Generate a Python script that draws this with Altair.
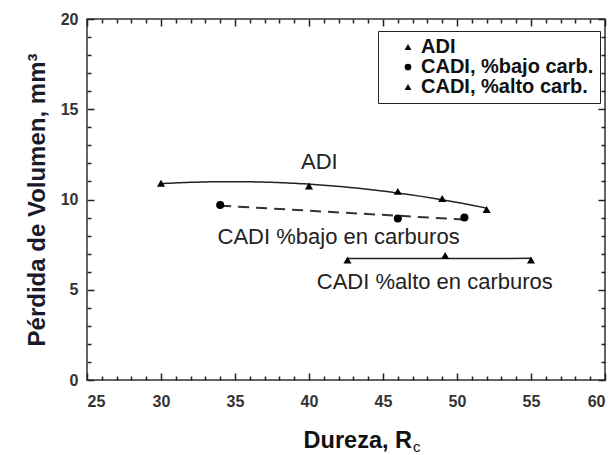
import altair as alt
import pandas as pd

# ---- data ----
series_names = ["ADI", "CADI, %bajo carb.", "CADI, %alto carb."]
adi_x = [30, 40, 46, 49, 52]
adi_y = [10.9, 10.75, 10.45, 10.05, 9.45]
bajo_x = [34, 46, 50.5]
bajo_y = [9.7, 8.95, 9.0]
alto_x = [42.6, 49.2, 55]
alto_y = [6.65, 6.9, 6.65]

ann_text = ["ADI", "CADI %bajo en carburos", "CADI %alto en carburos"]
ann_x = [40.7, 42.0, 48.5]
ann_y = [12.05, 7.9, 5.45]

x_ticks = list(range(25, 61))
y_ticks = list(range(0, 21))

FONT = "Liberation Sans"
W, H = 518, 361
XMIN, XMAX, YMIN, YMAX = 25, 60, 0, 20
MAJ, MIN = 7, 4  # inward tick lengths in px

df = pd.DataFrame(
    {"series": [series_names[0]] * len(adi_x) + [series_names[1]] * len(bajo_x) + [series_names[2]] * len(alto_x),
     "x": adi_x + bajo_x + alto_x,
     "y": adi_y + bajo_y + alto_y}
)
df_adi = df[df.series == series_names[0]]
df_bajo = df[df.series == series_names[1]]
df_alto = df[df.series == series_names[2]]

xscale = alt.Scale(domain=[XMIN, XMAX], nice=False, zero=False)
yscale = alt.Scale(domain=[YMIN, YMAX], nice=False, zero=False)

# inward ticks on all four sides drawn as dashed grid lines (a dash at each end of each grid line)
x_grid_dash = {"condition": {"test": "datum.value % 5 === 0", "value": [MAJ, H - 2 * MAJ, MAJ, 0]},
               "value": [MIN, H - 2 * MIN, MIN, 0]}
y_grid_dash = {"condition": {"test": "datum.value % 5 === 0", "value": [MAJ, W - 2 * MAJ, MAJ, 0]},
               "value": [MIN, W - 2 * MIN, MIN, 0]}

xaxis = alt.Axis(values=x_ticks, ticks=False, domain=False, grid=True, gridColor="#222", gridWidth=1.5,
                 gridOpacity=1, gridDash=x_grid_dash, labelOverlap=False,
                 labelExpr="datum.value % 5 === 0 ? datum.label : ''",
                 labelFont=FONT, labelFontSize=16, labelFontWeight="bold", labelColor="#333",
                 labelPadding=13, title=None)
yaxis = alt.Axis(values=y_ticks, ticks=False, domain=False, grid=True, gridColor="#222", gridWidth=1.5,
                 gridOpacity=1, gridDash=y_grid_dash, labelOverlap=False,
                 labelExpr="datum.value % 5 === 0 ? datum.label : ''",
                 labelFont=FONT, labelFontSize=16, labelFontWeight="bold", labelColor="#333", labelPadding=9,
                 title="Pérdida de Volumen, mm³", titleFont=FONT, titleFontSize=24, titleFontWeight="bold",
                 titleColor="#1a1a2a", titlePadding=11)

X = alt.X("x:Q", scale=xscale, axis=xaxis)
Y = alt.Y("y:Q", scale=yscale, axis=yaxis)

adi_line = alt.Chart(df_adi).transform_regression("x", "y", method="poly", order=2, extent=[30, 52]).mark_line(
    color="#222", strokeWidth=1.5).encode(x=X, y=Y)
bajo_line = alt.Chart(df_bajo).transform_regression("x", "y", extent=[34, 50.5]).mark_line(
    color="#333", strokeWidth=2, strokeDash=[11, 7]).encode(x=X, y=Y)
alto_line = alt.Chart(df_alto).transform_regression("x", "y", extent=[42.6, 55]).mark_line(
    color="#222", strokeWidth=1.5).encode(x=X, y=Y)

points = alt.Chart(df).mark_point(filled=True, opacity=1, color="black", size=65).encode(
    x=X, y=Y,
    shape=alt.Shape("series:N", scale=alt.Scale(domain=series_names, range=["triangle-up", "circle", "triangle-up"]),
                    sort=series_names,
                    legend=alt.Legend(title=None, orient="none", legendX=291, legendY=12, fillColor="white",
                                      strokeColor="#222", padding=6, labelFont=FONT, labelFontSize=20,
                                      labelFontWeight="bold", labelColor="#111", labelLimit=0, symbolSize=45,
                                      symbolFillColor="black", symbolStrokeColor="black", rowPadding=-3,
                                      symbolOffset=14, labelOffset=3)),
)

ann_df = pd.DataFrame({"x": ann_x, "y": ann_y, "t": ann_text})
ann = alt.Chart(ann_df).mark_text(font=FONT, fontSize=22, color="#222").encode(x=X, y=Y, text="t:N")

title_df = pd.DataFrame({"t": ["Dureza, R"], "s": ["c"]})
xtitle = alt.Chart(title_df).mark_text(font=FONT, fontSize=23.5, fontWeight="bold", color="#111", align="right",
                                       baseline="alphabetic").encode(x=alt.value(325), y=alt.value(429), text="t:N")
xsub = alt.Chart(title_df).mark_text(font=FONT, fontSize=15, color="#111", align="left",
                                     baseline="alphabetic").encode(x=alt.value(326), y=alt.value(433), text="s:N")

chart = alt.layer(adi_line, bajo_line, alto_line, points, ann, xtitle, xsub).properties(
    width=W, height=H, autosize=alt.AutoSizeParams(type="none"),
    padding={"left": 87, "top": 19, "right": 10, "bottom": 75},
    background="white",
).configure_view(stroke="#333", strokeWidth=1.5)

chart.save("out.html", embed_options={"renderer": "svg", "actions": False})
